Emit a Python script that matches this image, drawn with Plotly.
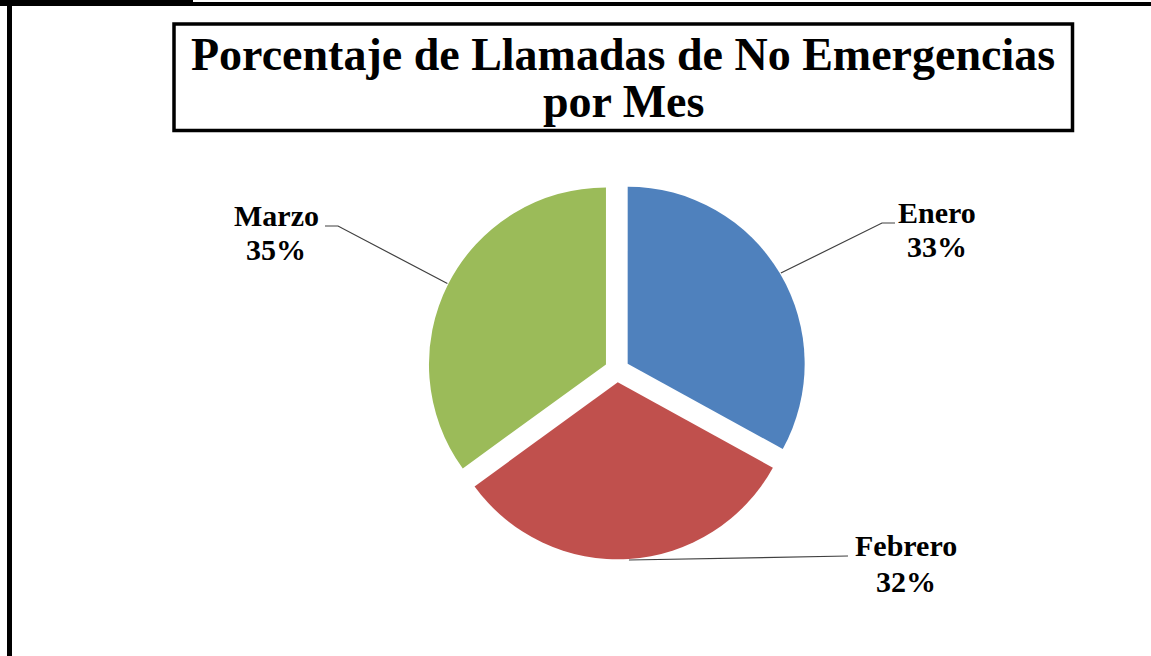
import math
import plotly.graph_objects as go

# ---- data ----
months = ["Enero", "Febrero", "Marzo"]
percent = [33, 32, 35]
colors = ["#4F81BD", "#C0504D", "#9BBB59"]
title_lines = ["Porcentaje de Llamadas de No Emergencias", "por Mes"]

# ---- layout constants (pixels) ----
W, H = 1151, 656
CX, CY, R, PULL = 617, 370, 177, 0.07
HALF = R * (1 + PULL)
FONT = "Liberation Serif"


def px(x):
    return x / W


def py(y):
    return 1 - y / H


# label placement: elbow point of leader, end of leader, text centre x, baselines
label_layout = {
    "Enero": dict(elbow=(882, 223), end=(895, 223), tx=937, base=(223, 257)),
    "Febrero": dict(elbow=(848, 556), end=(848, 556), tx=906, base=(556, 592)),
    "Marzo": dict(elbow=(338, 226), end=(325, 226), tx=276, base=(226, 260)),
}

fig = go.Figure(
    go.Pie(
        labels=months,
        values=percent,
        sort=False,
        direction="clockwise",
        rotation=0,
        pull=[PULL] * len(months),
        marker=dict(colors=colors, line=dict(width=0)),
        textinfo="none",
        hoverinfo="label+percent",
        showlegend=False,
        domain=dict(x=[px(CX - HALF), px(CX + HALF)], y=[py(CY + HALF), py(CY - HALF)]),
    )
)

shapes = []
annotations = []

# leader lines and labels, anchored on each slice's mid-angle
total = sum(percent)
cum = 0
LBL = 30
for m, v in zip(months, percent):
    a = math.radians((cum + v / 2) / total * 360)
    cum += v
    d = R * PULL + R + 1
    ax, ay = CX + d * math.sin(a), CY - d * math.cos(a)
    L = label_layout[m]
    ex, ey = L["elbow"]
    nx, ny = L["end"]
    path = f"M {px(ax)},{py(ay)} L {px(ex)},{py(ey)} L {px(nx)},{py(ny)}"
    shapes.append(dict(type="path", xref="paper", yref="paper", path=path,
                       line=dict(color="#404040", width=1.2)))
    pct = f"{round(v / total * 100)}%"
    for txt, b in zip([m, pct], L["base"]):
        annotations.append(dict(
            x=px(L["tx"]), y=py(b - 0.3375 * LBL), xref="paper", yref="paper",
            text=f"<b>{txt}</b>", showarrow=False, xanchor="center", yanchor="middle",
            font=dict(family=FONT, size=LBL, color="black")))

# title
TS = 46
for txt, b in zip(title_lines, (70, 117)):
    annotations.append(dict(
        x=px(623), y=py(b - 0.3375 * TS), xref="paper", yref="paper",
        text=f"<b>{txt}</b>", showarrow=False, xanchor="center", yanchor="middle",
        font=dict(family=FONT, size=TS, color="black")))

# title box
shapes.append(dict(type="rect", xref="paper", yref="paper",
                   x0=px(174), x1=px(1072.5), y0=py(130.5), y1=py(24),
                   line=dict(color="black", width=3.5), fillcolor="rgba(0,0,0,0)"))

# page borders
shapes.append(dict(type="rect", xref="paper", yref="paper",
                   x0=0, x1=px(193), y0=py(6), y1=1,
                   line=dict(width=0), fillcolor="black"))
shapes.append(dict(type="line", xref="paper", yref="paper",
                   x0=px(193), x1=1, y0=py(4), y1=py(4),
                   line=dict(color="black", width=4)))
shapes.append(dict(type="line", xref="paper", yref="paper",
                   x0=px(9.5), x1=px(9.5), y0=py(3), y1=0,
                   line=dict(color="black", width=5)))

fig.update_layout(
    width=W, height=H,
    margin=dict(l=0, r=0, t=0, b=0),
    paper_bgcolor="white", plot_bgcolor="white",
    shapes=shapes, annotations=annotations,
    showlegend=False,
)

fig.write_html(
    "out.html",
    config={"displayModeBar": False},
    post_script="document.body.style.margin='0';document.body.style.overflow='hidden';",
)
